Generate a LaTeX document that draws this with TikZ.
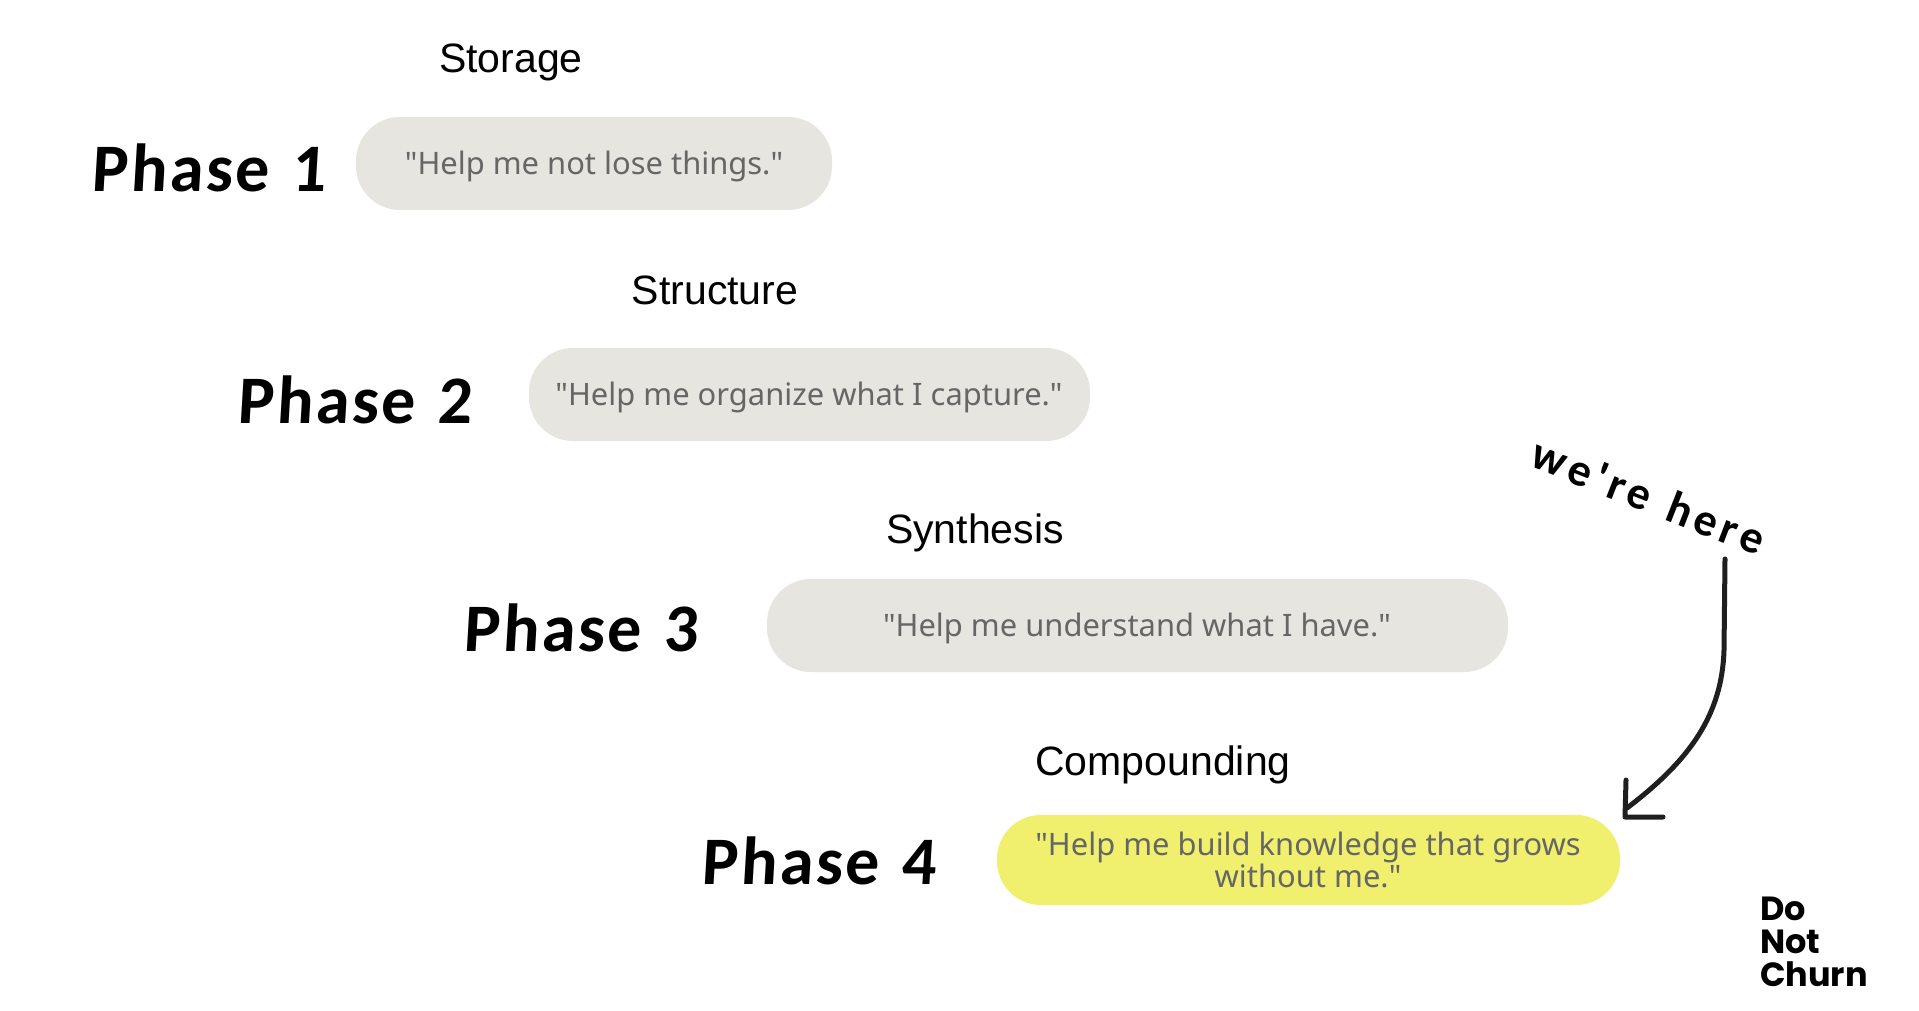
\documentclass[tikz,border=0pt]{standalone}
\usepackage{fontspec}
\usetikzlibrary{decorations.text}
\newfontfamily\pillfont{Noto Sans}
\newfontfamily\headfont{Liberation Sans}
\newfontfamily\handfont{Carlito}[BoldFont=Carlito Bold,LetterSpace=3.5,WordSpace=1.3,FakeSlant=0.06]
\newfontfamily\hereFont{Carlito}
\newfontfamily\logofont{Poppins}
\definecolor{pillgrey}{HTML}{E6E5E0}
\definecolor{pillyellow}{HTML}{F1F06E}
\definecolor{pilltext}{HTML}{666666}
\definecolor{arrowink}{HTML}{1F1F1F}
\tikzset{
  x=1pt,y=-1pt,
  pill/.style={rounded corners=44pt,fill=pillgrey},
  pilllabel/.style={text=pilltext,font=\pillfont\fontsize{30.9}{32.5}\selectfont,align=center},
  head/.style={text=black,font=\headfont\fontsize{41}{44}\selectfont},
  phase/.style={text=black,font=\handfont\bfseries\fontsize{68}{68}\selectfont},
  ink/.style={draw=arrowink,line width=5pt,line cap=round,line join=round}
}
\begin{document}
\begin{tikzpicture}
\useasboundingbox (0,0) rectangle (1919,1010);
\fill[white] (0,0) rectangle (1919,1010);

\fill[pill] (356,117) rectangle (832,210);
\node[pilllabel] (t1) at (594,166) {"Help me not lose things."};
\fill[pill] (529,348) rectangle (1090,441);
\node[pilllabel] (t2) at (809,397) {"Help me organize what I capture."};
\fill[pill] (767,579) rectangle (1508,672);
\node[pilllabel] (t3) at (1137,628) {"Help me understand what I have."};
\fill[pill,rounded corners=44pt,fill=pillyellow] (997,815) rectangle (1620,905);
\node[pilllabel] (t4) at (1308,860) {"Help me build knowledge that grows\\without me."};

\node[head] (h1) at (511,62) {Storage};
\node[head] (h2) at (715,290) {Structure};
\node[head] (h3) at (975,533) {Synthesis};
\node[head] (h4) at (1163,765) {Compounding};

\node[phase] (p1) at (209,168) {Phase 1};
\node[phase] (p2) at (355,400) {Phase 2};
\node[phase] (p3) at (581,628) {Phase 3};
\node[phase] (p4) at (819,861) {Phase 4};

\node[anchor=west,inner sep=0pt,align=left,font=\logofont\bfseries\fontsize{33.5}{33}\selectfont] (logo) at (1760,942) {Do\\Not\\Churn};

\path[decorate,decoration={text along path,text align={fit to path},
  text={|\hereFont\bfseries\fontsize{46}{46}\selectfont|we're here}}]
  (1528,466) .. controls (1580,486) and (1670,523) .. (1758,556);

\coordinate (tail) at (1725,559);
\coordinate (bend) at (1724,650);
\coordinate (tip) at (1627,808);
\coordinate (barbtop) at (1626,780);
\coordinate (barbcorner) at (1625,817);
\coordinate (barbend) at (1663,817);
\draw[ink] (tail) -- (bend) .. controls (1722,715) and (1690,760) .. (tip);
\draw[ink] (barbtop) -- (barbcorner) -- (barbend);
\end{tikzpicture}
\end{document}
